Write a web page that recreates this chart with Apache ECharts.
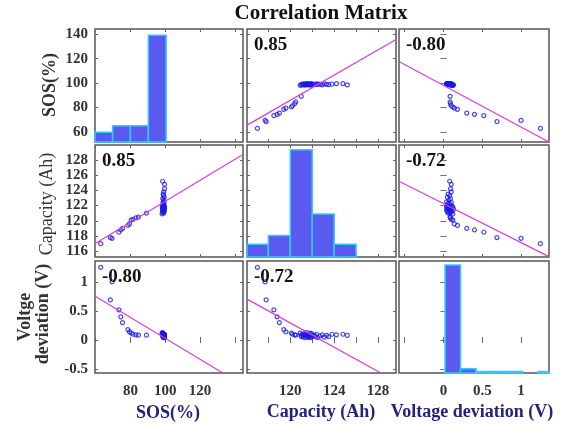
<!DOCTYPE html>
<html>
<head>
<meta charset="utf-8">
<script src="https://cdn.jsdelivr.net/npm/echarts@6/dist/echarts.min.js"></script>
<style>
html, body { margin: 0; padding: 0; background: #fff; }
#chart { width: 567px; height: 425px; }
</style>
</head>
<body>
<div id="chart"></div>
<script>
// one value per sample (13 spread points, then the cluster near SOS 99)
const sos = [63.0, 69.5, 68.5, 73.4, 74.5, 75.5, 78.6, 79.5, 80.5, 81.5, 83.2, 84.6, 89.2,
  98.2, 99.0, 98.6, 99.3, 98.9, 98.4, 99.5, 98.8, 99.1, 98.5, 99.6, 98.7, 99.2, 98.9, 98.3, 99.4, 98.8,
  99.0, 98.6, 99.5, 99.1, 98.7, 99.3, 98.9, 99.2, 98.6, 99.4, 99.0, 98.8, 99.1, 99.6, 99.6, 98.5]
const cap = [117.0, 117.7, 117.8, 118.5, 118.8, 119.0, 119.4, 119.6, 120.1, 120.2, 120.4, 120.5, 121.0,
  120.9, 121.0, 121.1, 121.2, 121.2, 121.3, 121.4, 121.4, 121.5, 121.5, 121.6, 121.6, 121.7, 121.7, 121.8, 121.8,
  121.9, 121.9, 121.95, 121.95, 122.2, 122.3, 122.4, 122.5, 122.7, 122.9, 123.1, 123.3, 123.5, 123.8, 124.2, 124.8, 125.2]
const vd = [1.25, 1.0, 0.69, 0.52, 0.40, 0.30, 0.18, 0.14, 0.12, 0.10, 0.09, 0.085, 0.085,
  0.12, 0.06, 0.10, 0.05, 0.08, 0.11, 0.04, 0.09, 0.07, 0.13, 0.05, 0.10, 0.08, 0.06, 0.12, 0.04,
  0.09, 0.07, 0.11, 0.05, 0.08, 0.06, 0.10, 0.04, 0.07, 0.09, 0.05, 0.08, 0.06, 0.10, 0.09, 0.10, 0.08]

const corr = [[null, '0.85', '-0.80'], ['0.85', null, '-0.72'], ['-0.80', '-0.72', null]]

// histogram bins on the diagonal
const sosEdges = [59.6, 69.8, 80.0, 90.3, 100.5]
const sosCounts = [3, 5, 5, 33]
const capEdges = [116, 118, 120, 122, 124, 126]
const capCounts = [3, 5, 25, 10, 3]
const vdEdges = [0.02, 0.22, 0.42, 0.62, 0.82, 1.02, 1.22, 1.42]
const vdCounts = [40, 2, 1, 1, 1, 0, 1]

// least squares lines, end points (row-col)
const fitLines = {
  '0-1': [[116.1, 65.9], [129.6, 135.4]],
  '0-2': [[-0.574, 117.6], [1.36, 51.9]],
  '1-0': [[59.6, 117.0], [143.8, 128.6]],
  '1-2': [[-0.574, 125.2], [1.36, 115.3]],
  '2-0': [[59.6, 0.76], [133.3, -0.57]],
  '2-1': [[116.1, 0.70], [128.3, -0.57]]
}

// axes
const colRange = [[59.7, 144.6], [116.05, 129.64], [-0.574, 1.361]]
const rowRange = [[51.9, 144.2], [115.25, 129.96], [-0.566, 1.36]]
const colTicks = [[60, 80, 100, 120, 140], [118, 120, 122, 124, 126, 128], [-0.5, 0, 0.5, 1]]
const colLabels = [[80, 100, 120], [120, 124, 128], [0, 0.5, 1]]
const rowTicks = [[60, 80, 100, 120, 140], [116, 118, 120, 122, 124, 126, 128], [-0.5, 0, 0.5, 1]]
const countRange = [[0, 34.9], [0, 26.1], [0.42, 41.5]]

const vars = [sos, cap, vd]
const hists = [[sosEdges, sosCounts], [capEdges, capCounts], [vdEdges, vdCounts]]

const colLeft = [95, 247, 399], colW = [148, 149, 150]
const rowTop = [29, 145, 261], rowH = [113, 112, 112]

const serif = '"Liberation Serif", "Times New Roman", serif'
const tickStyle = { show: true, inside: true, length: 3, lineStyle: { color: '#666', width: 1 } }
const labelStyle = {
  fontFamily: serif, fontWeight: 'bold', fontSize: 15, lineHeight: 12, color: '#333',
  hideOverlap: false, showMinLabel: true, showMaxLabel: true,
  formatter: v => String(v)
}

const grid = [], xAxis = [], yAxis = [], series = []

for (let r = 0; r < 3; r++) {
  for (let c = 0; c < 3; c++) {
    const gi = grid.length
    grid.push({
      left: colLeft[c], top: rowTop[r], width: colW[c], height: rowH[r],
      show: true, borderColor: '#555', borderWidth: 1.5, backgroundColor: '#fff'
    })
    const xi = xAxis.length
    ;['bottom', 'top'].forEach(pos => {
      xAxis.push({
        gridIndex: gi, type: 'value', position: pos,
        min: colRange[c][0], max: colRange[c][1],
        axisLine: { show: false }, splitLine: { show: false },
        axisTick: { ...tickStyle, customValues: colTicks[c] },
        axisLabel: { ...labelStyle, show: pos === 'bottom' && r === 2, margin: 12, customValues: colLabels[c] }
      })
    })
    const yi = yAxis.length
    ;['left', 'right'].forEach(pos => {
      yAxis.push({
        gridIndex: gi, type: 'value', position: pos,
        min: rowRange[r][0], max: rowRange[r][1],
        axisLine: { show: false }, splitLine: { show: false },
        axisTick: { ...tickStyle, customValues: rowTicks[r] },
        axisLabel: { ...labelStyle, show: pos === 'left' && c === 0, margin: 7, customValues: rowTicks[r] }
      })
    })

    if (r === c) {
      const ci = yAxis.length
      yAxis.push({
        gridIndex: gi, type: 'value', show: false,
        min: countRange[r][0], max: countRange[r][1]
      })
      const [edges, counts] = hists[r]
      const base = countRange[r][0]
      series.push({
        type: 'custom', xAxisIndex: xi, yAxisIndex: ci, silent: true,
        data: counts.map((n, i) => [edges[i], edges[i + 1], n]),
        renderItem: (params, api) => {
          const p0 = api.coord([api.value(0), api.value(2)])
          const p1 = api.coord([api.value(1), base])
          const cs = params.coordSys
          const shape = echarts.graphic.clipRectByRect(
            { x: p0[0], y: p0[1], width: p1[0] - p0[0], height: p1[1] - p0[1] },
            { x: cs.x, y: cs.y, width: cs.width, height: cs.height }
          )
          return shape && {
            type: 'rect', shape,
            style: { fill: '#5a5af0', stroke: '#2ccdfc', lineWidth: 1.5 }
          }
        }
      })
    } else {
      series.push({
        type: 'scatter', xAxisIndex: xi, yAxisIndex: yi, silent: true, z: 2,
        symbol: 'circle', symbolSize: 4,
        itemStyle: { color: 'rgba(0,0,0,0)', borderColor: '#1a1ae6', borderWidth: 1.2 },
        data: sos.map((_, i) => [vars[c][i], vars[r][i]])
      })
      series.push({
        type: 'line', xAxisIndex: xi, yAxisIndex: yi, silent: true, z: 3,
        symbol: 'none', clip: true,
        lineStyle: { color: '#dd3cdd', width: 1.2 },
        data: fitLines[r + '-' + c]
      })
    }
  }
}

const graphic = []
const txt = (text, x, y, font, fill, rot) => graphic.push({
  type: 'text', x, y, rotation: rot || 0, silent: true,
  style: { text, font, fill, align: 'center', verticalAlign: 'middle' }
})

txt('Correlation Matrix', 321, 14, 'bold 21px ' + serif, '#111')

// row names
txt('SOS(%)', 50, 85, 'bold 18px ' + serif, '#333', Math.PI / 2)
txt('Capacity (Ah)', 47, 204, '18px ' + serif, '#333', Math.PI / 2)
txt('Voltge', 25, 317, 'bold 18px ' + serif, '#333', Math.PI / 2)
txt('deviation (V)', 43, 314, 'bold 18px ' + serif, '#333', Math.PI / 2)

// column names
txt('SOS(%)', 168, 413, 'bold 18px ' + serif, '#23237d')
txt('Capacity (Ah)', 321, 412, 'bold 18px ' + serif, '#23237d')
txt('Voltage deviation (V)', 472, 412, 'bold 18px ' + serif, '#23237d')

// correlation coefficients
for (let r = 0; r < 3; r++) {
  for (let c = 0; c < 3; c++) {
    if (!corr[r][c]) continue
    graphic.push({
      type: 'text', x: colLeft[c] + 7, y: rowTop[r] + 16.5, silent: true, z: 10,
      style: { text: corr[r][c], font: 'bold 19px ' + serif, fill: '#111', align: 'left', verticalAlign: 'middle' }
    })
  }
}

const mychart = echarts.init(document.getElementById('chart'))
mychart.setOption({
  animation: false,
  backgroundColor: '#fff',
  grid, xAxis, yAxis, series, graphic
})
</script>
</body>
</html>
